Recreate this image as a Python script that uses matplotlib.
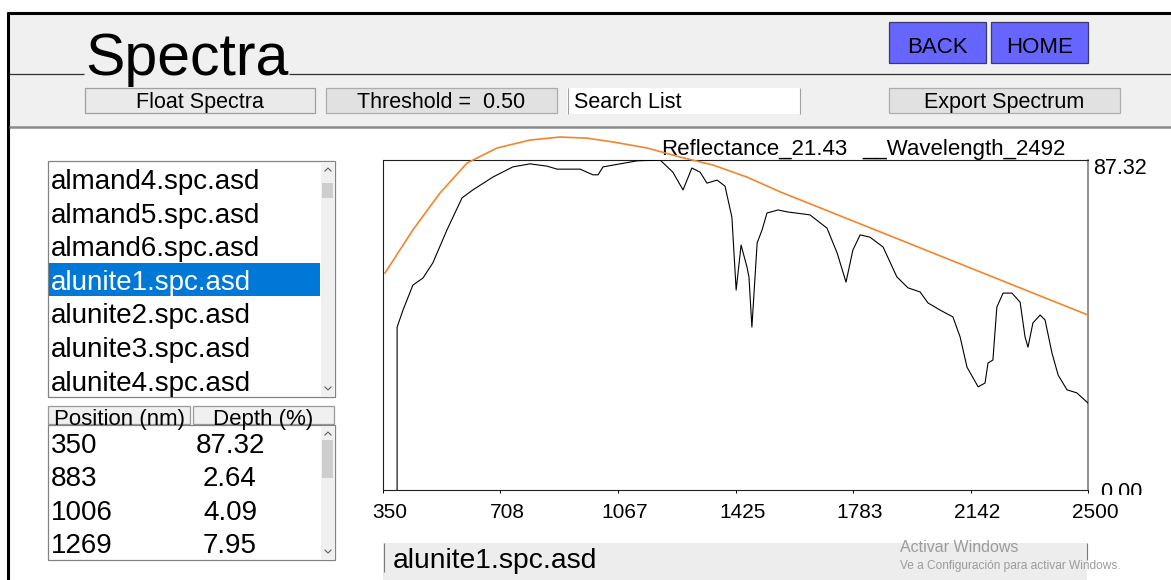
"""Spectra viewer screenshot: alunite1 reflectance spectrum with hull curve."""

import matplotlib
matplotlib.use("Agg")
import matplotlib.pyplot as plt
from matplotlib.patches import Rectangle
from matplotlib.transforms import ScaledTranslation

plt.rcParams["font.family"] = ["Liberation Sans", "DejaVu Sans"]

# --- data ---
wavelength = [393, 393, 411, 441, 472, 502, 545, 591, 624, 685, 746, 798, 850,
              881, 951, 990, 1006, 1021, 1125, 1195, 1234, 1265, 1292, 1317,
              1338, 1369, 1393, 1414, 1427, 1442, 1460, 1466, 1475, 1491, 1506,
              1521, 1555, 1582, 1652, 1704, 1735, 1762, 1783, 1805, 1835, 1875,
              1917, 1951, 1988, 2012, 2049, 2088, 2110, 2131, 2165, 2186, 2195,
              2210, 2222, 2241, 2268, 2293, 2308, 2317, 2332, 2354, 2369, 2390,
              2409, 2436, 2466, 2500]
reflectance = [0.0, 43.1, 47.6, 54.2, 56.1, 60.1, 68.8, 77.3, 79.4, 82.8, 85.5,
               86.3, 85.7, 84.9, 84.9, 83.4, 83.4, 85.5, 87.1, 87.32, 84.1,
               79.4, 85.2, 84.1, 81.2, 82.0, 80.4, 72.2, 52.9, 64.8, 59.0, 56.4,
               43.1, 65.4, 68.8, 73.3, 74.1, 73.6, 72.8, 69.3, 62.7, 55.0, 63.5,
               67.5, 66.9, 64.3, 56.4, 53.5, 52.4, 49.5, 47.6, 45.8, 40.5, 32.5,
               27.3, 28.3, 33.6, 34.4, 48.4, 52.1, 52.1, 49.7, 40.5, 37.8, 44.2,
               46.3, 45.0, 36.3, 30.4, 26.5, 25.7, 23.0]

hull_wavelength = [356, 441, 524, 606, 698, 798, 890, 972, 1051, 1155, 1256,
                   1356, 1460, 1561, 1927, 2232, 2500]
hull_reflectance = [57.4, 68.8, 78.6, 86.5, 90.5, 92.6, 93.4, 93.1, 92.1, 90.5,
                    88.1, 86.0, 82.8, 78.9, 66.2, 55.6, 46.3]

x_ticks = [350, 708, 1067, 1425, 1783, 2142, 2500]
y_max = 87.32

file_list = ["almand4.spc.asd", "almand5.spc.asd", "almand6.spc.asd",
             "alunite1.spc.asd", "alunite2.spc.asd", "alunite3.spc.asd",
             "alunite4.spc.asd"]
selected = "alunite1.spc.asd"

feature_pos = ["350", "883", "1006", "1269"]
feature_depth = ["87.32", "2.64", "4.09", "7.95"]

BG = "#F0F0F0"
BTN = "#E1E1E1"
BTN_EDGE = "#ADADAD"
BLUE_BTN = "#6666FF"
SELECT = "#0078D7"
HULL = "#F0862E"

W, H = 1171, 580
fig = plt.figure(figsize=(W / 100, H / 100), dpi=100)
fig.patch.set_facecolor("white")

# pixel canvas for the window chrome
gui = fig.add_axes([0, 0, 1, 1])
gui.set_xlim(0, W)
gui.set_ylim(H, 0)
gui.axis("off")


def box(x0, y0, x1, y1, fc, ec=None, lw=1.0, z=1):
    r = Rectangle((x0, y0), x1 - x0, y1 - y0, facecolor=fc,
                  edgecolor=ec if ec else "none", linewidth=lw, zorder=z)
    gui.add_patch(r)
    return r


def hline(y, x0, x1, color, lw, z=3):
    gui.plot([x0, x1], [y, y], color=color, lw=lw, zorder=z,
             solid_capstyle="butt")


def vline(x, y0, y1, color, lw, z=3):
    gui.plot([x, x], [y0, y1], color=color, lw=lw, zorder=z,
             solid_capstyle="butt")


# header + toolbar background
box(8, 13, W, 127, BG)
hline(13, 7, W, "black", 2.2)
vline(8, 12, H, "black", 2.2)
hline(74, 9, 84, "#303030", 0.9)
hline(74, 289, W, "#303030", 0.9)
hline(127, 9, W, "#8A8A8A", 1.8)

gui.text(85, 75, "Spectra", fontsize=42.5, va="baseline", ha="left", zorder=5)

# blue buttons
for x0, label in [(889, "BACK"), (991, "HOME")]:
    box(x0, 22, x0 + 97, 63, BLUE_BTN, "#3A3A6A", 0.9, z=2)
    gui.text(x0 + 48.5, 53, label, fontsize=16, ha="center", va="baseline",
             zorder=5)

# toolbar buttons
TB_BASE = 108
box(85, 88, 315, 113, "#EAEAEA", "#A0A0A0", 0.9, z=2)
gui.text(200, TB_BASE, "Float Spectra", fontsize=15.5, ha="center",
         va="baseline", zorder=5)
box(326, 88, 557, 113, BTN, BTN_EDGE, 0.9, z=2)
gui.text(441, TB_BASE, "Threshold =  0.50", fontsize=15.5, ha="center",
         va="baseline", zorder=5)
box(567, 88, 800, 114, "white", None, z=2)
vline(567.5, 88, 114, "#A0A0A0", 0.8)
vline(799.5, 88, 114, "#A0A0A0", 0.8)
gui.text(574, TB_BASE, "Search List", fontsize=15.5, ha="left",
         va="baseline", zorder=5)
box(889, 88, 1120, 113, BTN, BTN_EDGE, 0.9, z=2)
gui.text(1004, TB_BASE, "Export Spectrum", fontsize=15.5, ha="center",
         va="baseline", zorder=5)


def scrollbar(x0, y0, y1, t0, t1):
    box(x0, y0, x0 + 14, y1, BG, None, z=2)
    box(x0 + 1, t0, x0 + 12, t1, "#CDCDCD", None, z=3)
    cx = x0 + 7
    gui.plot([cx - 3, cx, cx + 3], [y0 + 9, y0 + 6, y0 + 9], color="#606060",
             lw=0.8, zorder=4)
    gui.plot([cx - 3, cx, cx + 3], [y1 - 9, y1 - 6, y1 - 9], color="#606060",
             lw=0.8, zorder=4)


# file list
box(48, 161, 335, 397, "white", "#828282", 0.9, z=2)
scrollbar(321, 162, 396, 183, 198)
row_h = 33.6
for i, name in enumerate(file_list):
    base = 189 + i * row_h
    color = "black"
    if name == selected:
        box(48.5, base - 27, 320, base + 6.5, SELECT, None, z=3)
        color = "white"
    gui.text(51, base, name, fontsize=20, ha="left", va="baseline",
             color=color, zorder=5)

# feature table header (text clipped by its cell)
for x0, x1, label, tx, ha in [(48, 190, "Position (nm)", 54, "left"),
                              (193, 334, "Depth (%)", 263, "center")]:
    cell = box(x0, 406, x1, 424, BG, "#9A9A9A", 0.9, z=2)
    t = gui.text(tx, 425, label, fontsize=16, ha=ha, va="baseline", zorder=5)
    t.set_clip_path(cell)

box(48, 425, 335, 560, "white", "#828282", 0.9, z=2)
scrollbar(321, 426, 559, 440, 478)
for i, (pos, depth) in enumerate(zip(feature_pos, feature_depth)):
    base = 453 + i * 33.4
    gui.text(51, base, pos, fontsize=20, ha="left", va="baseline", zorder=5)
    gui.text(230, base, depth, fontsize=20, ha="center", va="baseline",
             zorder=5)

# readout line above the plot
gui.text(661, 155, "Reflectance_21.43", fontsize=16, ha="left",
         va="baseline", zorder=5)
gui.text(862, 155, "__Wavelength_2492", fontsize=16, ha="left",
         va="baseline", zorder=5)

# selected-file caption
box(383, 543, 1087, H, "#EDEDED", None, z=2)
vline(383.5, 543, 572, "#7A7A7A", 0.8)
vline(1087, 543, 560, "#7A7A7A", 0.8)
gui.text(393, 568, selected, fontsize=20.3, ha="left", va="baseline",
         zorder=5)

# Windows activation watermark
gui.text(900, 547, "Activar Windows", fontsize=11.5, color="#9C9C9C",
         ha="left", va="center", zorder=6)
gui.text(900, 566, "Ve a Configuración para activar Windows.", fontsize=8.6,
         color="#9C9C9C", ha="left", va="center", zorder=6)

# --- spectrum plot ---
ax = fig.add_axes([383 / W, 1 - 490 / H, 705 / W, 330 / H])
ax.patch.set_alpha(0)
ax.set_xlim(x_ticks[0], x_ticks[-1])
ax.set_ylim(0, y_max)
ax.plot(wavelength, reflectance, color="black", lw=0.8, zorder=3)
ax.plot(hull_wavelength, hull_reflectance, color=HULL, lw=1.2, zorder=4,
        clip_on=False)

for side in ["top", "left", "bottom"]:
    ax.spines[side].set_color("#202020")
    ax.spines[side].set_linewidth(0.8)
ax.spines["right"].set_color("#808080")
ax.spines["right"].set_linewidth(1.2)

ax.set_yticks([])
ax.set_xticks(x_ticks, [str(v) for v in x_ticks])
ax.tick_params(axis="x", direction="out", length=2.5, width=0.7, pad=6.5,
               labelsize=15)
shift = ScaledTranslation(0.07, 0, fig.dpi_scale_trans)
for lbl in ax.get_xticklabels():
    lbl.set_transform(lbl.get_transform() + shift)

ax.annotate(f"{y_max:.2f}", xy=(1, y_max), xycoords=("axes fraction", "data"),
            xytext=(5, -9), textcoords="offset pixels", fontsize=15.5,
            ha="left", va="center")
zero = ax.annotate("0.00", xy=(1, 0), xycoords=("axes fraction", "data"),
                   xytext=(12, -2), textcoords="offset pixels", fontsize=15.5,
                   ha="left", va="center", annotation_clip=False)
zero.set_clip_path(Rectangle((1090, 470), 80, 24.5, transform=gui.transData))

fig.savefig("out.png", dpi=100)
